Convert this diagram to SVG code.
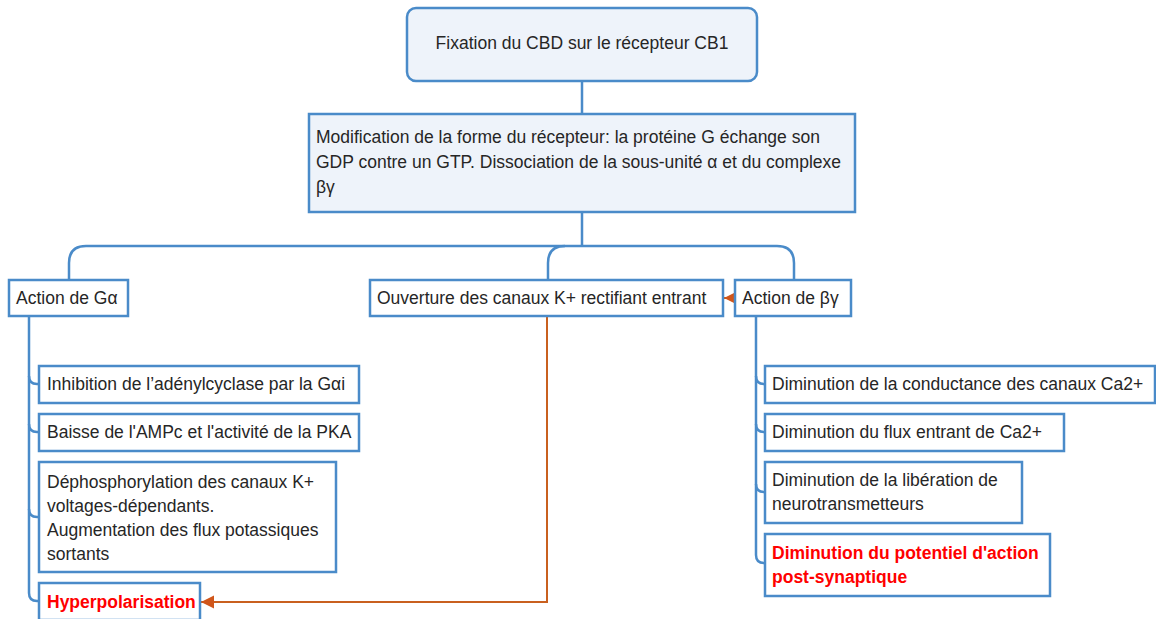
<svg xmlns="http://www.w3.org/2000/svg" width="1156" height="619" viewBox="0 0 1156 619">
<defs>
<style>
.box{fill:#ffffff;stroke:#4a8bc9;stroke-width:2.5}
.hd{fill:#eef3fa;stroke:#4a8bc9;stroke-width:2.5}
.t{font-family:"Liberation Sans",Arial,sans-serif;font-size:17.5px;fill:#262626}
.r{font-family:"Liberation Sans",Arial,sans-serif;font-size:17.5px;font-weight:bold;fill:#ff0000}
.c{fill:none;stroke:#4a8bc9;stroke-width:2.5}
.o{fill:none;stroke:#c9601f;stroke-width:2}
</style>
<marker id="ah" viewBox="0 0 10 10" refX="10" refY="5" markerWidth="13" markerHeight="14" orient="auto" markerUnits="userSpaceOnUse">
<path d="M0,0 L10,5 L0,10 z" fill="#d0561b"/>
</marker>
</defs>
<rect width="1156" height="619" fill="#ffffff"/>

<g id="connectors">
<path class="c" d="M582,81 V114"/>
<path class="c" d="M582,212 V246"/>
<path class="c" d="M582,246 H86 Q69,246 69,263 V280"/>
<path class="c" d="M582,246 H777 Q794,246 794,263 V280"/>
<path class="c" d="M565,246 Q548,246 548,263 V280"/>
<path class="c" d="M29,316 V593 Q29,601 37,601 H39"/>
<path class="c" d="M29,376 Q29,384 37,384 H39"/>
<path class="c" d="M29,424 Q29,432 37,432 H39"/>
<path class="c" d="M29,509 Q29,517 37,517 H39"/>
<path class="c" d="M756,316 V555 Q756,563 764,563 H765"/>
<path class="c" d="M756,376 Q756,384 764,384 H765"/>
<path class="c" d="M756,424 Q756,432 764,432 H765"/>
<path class="c" d="M756,484 Q756,492 764,492 H765"/>
<path class="o" d="M735,298 H724" marker-end="url(#ah)"/>
<path class="o" d="M547,317 V602 H201" marker-end="url(#ah)"/>
</g>

<g id="n1">
<rect class="hd" x="407" y="8" width="350" height="73" rx="9"/>
<text class="t" x="582" y="49" text-anchor="middle">Fixation du CBD sur le récepteur CB1</text>
</g>
<g id="n2">
<rect class="hd" x="309" y="114" width="546" height="98"/>
<text class="t" x="316" y="143">Modification de la forme du récepteur: la protéine G échange son</text>
<text class="t" x="316" y="168">GDP contre un GTP. Dissociation de la sous-unité α et du complexe</text>
<text class="t" x="316" y="193">βγ</text>
</g>
<g id="n3">
<rect class="box" x="9" y="280" width="119" height="36"/>
<text class="t" x="16" y="304">Action de Gα</text>
</g>
<g id="n4">
<rect class="box" x="370" y="280" width="353" height="36"/>
<text class="t" x="377" y="304">Ouverture des canaux K+ rectifiant entrant</text>
</g>
<g id="n5">
<rect class="box" x="735" y="280" width="116" height="36"/>
<text class="t" x="742" y="304">Action de βγ</text>
</g>
<g id="n6">
<rect class="box" x="39" y="366" width="320" height="37"/>
<text class="t" x="47" y="390">Inhibition de l’adénylcyclase par la Gαi</text>
</g>
<g id="n7">
<rect class="box" x="39" y="414" width="320" height="37"/>
<text class="t" x="47" y="438">Baisse de l'AMPc et l'activité de la PKA</text>
</g>
<g id="n8">
<rect class="box" x="39" y="462" width="297" height="110"/>
<text class="t" x="47" y="488">Déphosphorylation des canaux K+</text>
<text class="t" x="47" y="512">voltages-dépendants.</text>
<text class="t" x="47" y="536">Augmentation des flux potassiques</text>
<text class="t" x="47" y="560">sortants</text>
</g>
<g id="n9">
<rect class="box" x="39" y="583" width="161" height="37"/>
<text class="r" x="47" y="608">Hyperpolarisation</text>
</g>
<g id="n10">
<rect class="box" x="765" y="366" width="390" height="37"/>
<text class="t" x="772" y="390">Diminution de la conductance des canaux Ca2+</text>
</g>
<g id="n11">
<rect class="box" x="765" y="414" width="299" height="37"/>
<text class="t" x="772" y="438">Diminution du flux entrant de Ca2+</text>
</g>
<g id="n12">
<rect class="box" x="765" y="462" width="257" height="61"/>
<text class="t" x="772" y="486">Diminution de la libération de</text>
<text class="t" x="772" y="510">neurotransmetteurs</text>
</g>
<g id="n13">
<rect class="box" x="765" y="534" width="285" height="62"/>
<text class="r" x="772" y="559">Diminution du potentiel d'action</text>
<text class="r" x="772" y="583">post-synaptique</text>
</g>
</svg>
